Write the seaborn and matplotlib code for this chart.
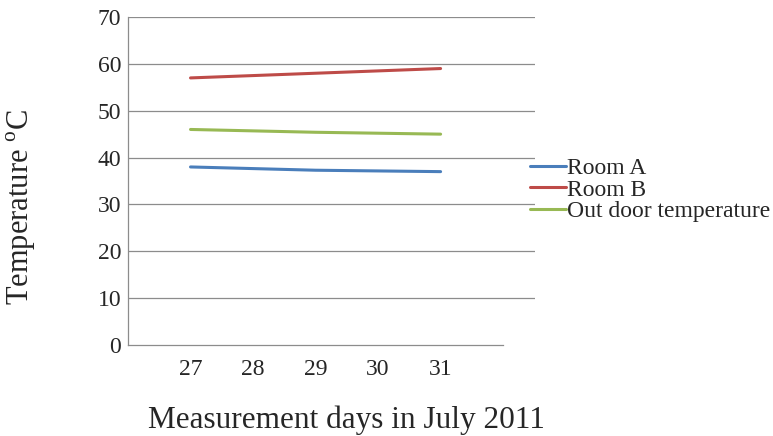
import pandas as pd
import matplotlib
matplotlib.use('Agg')
import matplotlib.pyplot as plt
import seaborn as sns

days = [27, 29, 31]
room_a = [38, 37.3, 37]
room_b = [57, 58, 59]
outdoor = [46, 45.4, 45]
series = ['Room A', 'Room B', 'Out door temperature']
colors = ['#4a7ebb', '#be4b48', '#98b954']

df = pd.DataFrame({
    'day': days * 3,
    'temp': room_a + room_b + outdoor,
    'series': [s for s in series for _ in days],
})

sns.set_style('white')
plt.rcParams['font.family'] = ['Liberation Serif', 'DejaVu Serif']
plt.rcParams['mathtext.fontset'] = 'custom'
plt.rcParams['mathtext.rm'] = 'Liberation Serif'

fig = plt.figure(figsize=(7.73, 4.36), dpi=100)
ax = fig.add_axes([0.1656, 0.2087, 0.5265, 0.7523])
sns.lineplot(data=df, x='day', y='temp', hue='series', palette=colors,
             linewidth=2.2, ax=ax)

ax.set_xlim(26, 32.51)
ax.set_ylim(0, 70)
ax.set_xticks([27, 28, 29, 30, 31])
ax.set_yticks(range(0, 71, 10))
ax.yaxis.grid(True, color='#8c8c8c', linewidth=0.9)
ax.get_ygridlines()[0].set_visible(False)
ax.set_axisbelow(True)
for s in ['top', 'right']:
    ax.spines[s].set_visible(False)
for s in ['left', 'bottom']:
    ax.spines[s].set_color('#8c8c8c')
    ax.spines[s].set_linewidth(0.9)
ax.spines['bottom'].set_bounds(26, 32)
ax.tick_params(axis='both', labelsize=17, length=4, color='#8c8c8c', width=0.9)
ax.tick_params(axis='x', pad=6)
ax.tick_params(axis='y', pad=1)

ax.set_xlabel('Measurement days in July 2011', fontsize=22.5)
ax.xaxis.set_label_coords(0.537, -0.185)
ax.set_ylabel('Temperature $^{\\mathrm{o}}$C', fontsize=22)
ax.yaxis.set_label_coords(-0.221, 0.42)

ax.legend(loc='center left', bbox_to_anchor=(0.988, 0.4726), frameon=False,
          fontsize=17, handlelength=1.5, handletextpad=0.05,
          labelspacing=0.0, borderpad=0, borderaxespad=0)

fig.savefig('out.png', dpi=100)
